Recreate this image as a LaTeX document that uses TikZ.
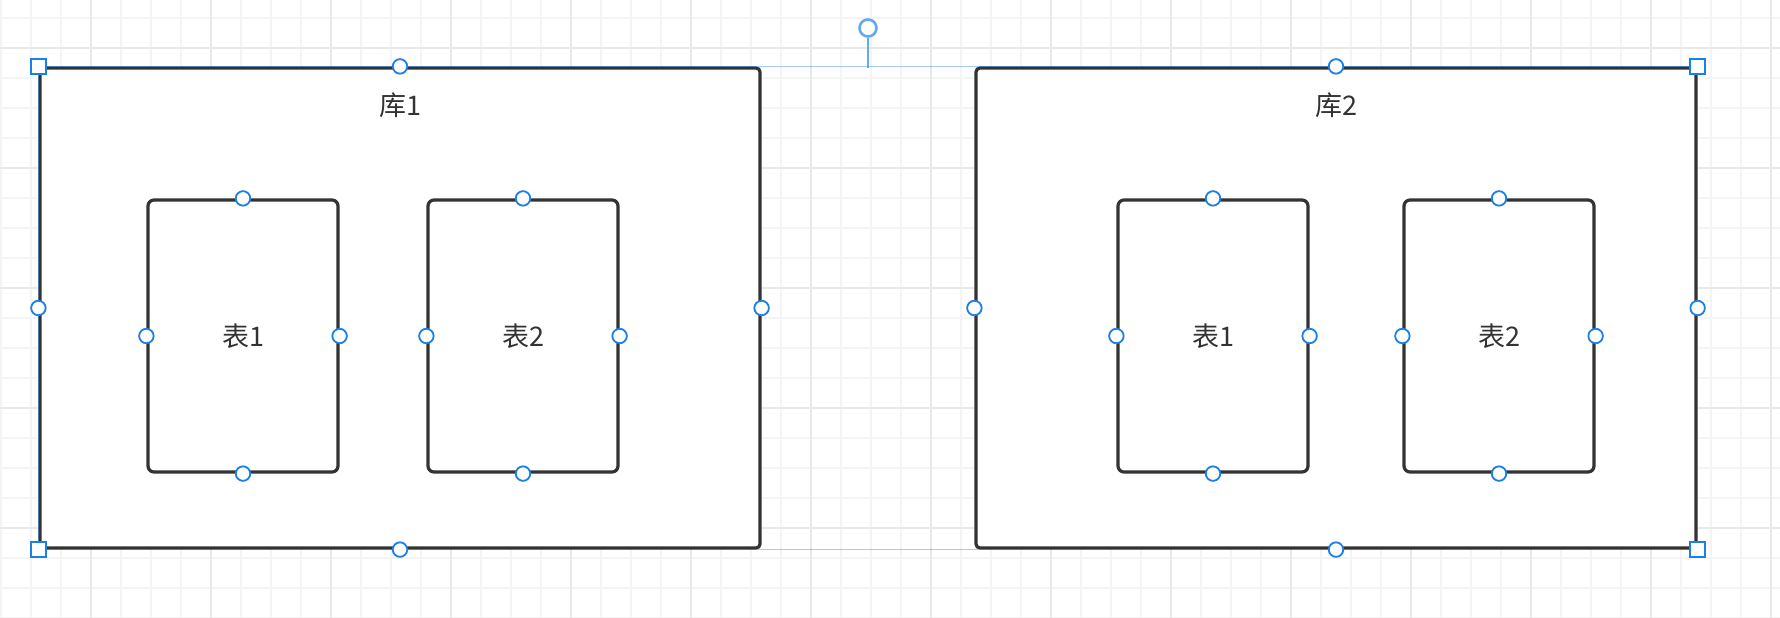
\documentclass[tikz,border=0pt]{standalone}
\usepackage{fontspec}
\setmainfont{Noto Sans CJK SC}
\definecolor{ink}{HTML}{333333}
\definecolor{hblue}{HTML}{1A7FE8}
\definecolor{rblue}{HTML}{62A8F2}
\definecolor{gridlight}{HTML}{F4F4F4}
\definecolor{griddark}{HTML}{E8E8E8}
\tikzset{
  gl/.style={draw=gridlight, line width=1.5pt},
  gd/.style={draw=griddark, line width=1.5pt},
  dbbox/.style={draw=ink, fill=white, line width=3.2pt, rounded corners=4pt,
    rectangle, minimum width=720pt, minimum height=480pt, inner sep=0pt},
  tblbox/.style={draw=ink, fill=white, line width=3.2pt, rounded corners=6pt,
    rectangle, minimum width=190pt, minimum height=272pt, inner sep=0pt,
    font=\fontsize{27}{32}\selectfont, text=ink},
  lbl/.style={font=\fontsize{27}{32}\selectfont, text=ink, inner sep=0pt},
  hdl/.style={circle, draw=hblue, fill=white, line width=1.8pt,
    minimum size=14.5pt, inner sep=0pt},
  sqh/.style={rectangle, draw=hblue, fill=white, line width=2pt,
    minimum size=15pt, inner sep=0pt},
  sel/.style={draw=hblue, draw opacity=0.4, line width=1.5pt},
}
\begin{document}
\begin{tikzpicture}[x=1pt, y=-1pt]
\useasboundingbox (0,0) rectangle (1780,618);
\fill[white] (0,0) rectangle (1780,618);
% grid
\foreach \x in {1,31,...,1771} \draw[gl] (\x,0) -- (\x,618);
\foreach \y in {18,48,...,618} \draw[gl] (0,\y) -- (1780,\y);
\foreach \x in {91,211,...,1771} \draw[gd] (\x,0) -- (\x,618);
\foreach \y in {48,168,...,618} \draw[gd] (0,\y) -- (1780,\y);
% databases
\node[dbbox] (db1) at (400,308) {};
\node[dbbox] (db2) at (1336,308) {};
\node[lbl] (db1l) at (400,105) {库1};
\node[lbl] (db2l) at (1336,105) {库2};
% tables
\node[tblbox] (t11) at (243,336) {表1};
\node[tblbox] (t12) at (523,336) {表2};
\node[tblbox] (t21) at (1213,336) {表1};
\node[tblbox] (t22) at (1499,336) {表2};
% group selection
\coordinate (gtl) at (db1.north west);
\coordinate (gbr) at (db2.south east);
\draw[sel] (gtl) rectangle (gbr);
% rotation handle
\coordinate (rotbase) at (868,68);
\node[circle, draw=rblue, fill=white, line width=2.6pt, minimum size=17pt, inner sep=0pt] (rot) at (868,28) {};
\draw[rblue, line width=2pt] (rot.south) -- (rotbase);
% connection handles
\foreach \n in {db1,db2,t11,t12,t21,t22}{
  \foreach \a in {north,south,east,west}{
    \node[hdl] (\n-\a) at (\n.\a) {};
  }
}
% corner handles
\node[sqh] (c1) at (db1.north west) {};
\node[sqh] (c2) at (db2.north east) {};
\node[sqh] (c3) at (db1.south west) {};
\node[sqh] (c4) at (db2.south east) {};
\end{tikzpicture}
\end{document}
